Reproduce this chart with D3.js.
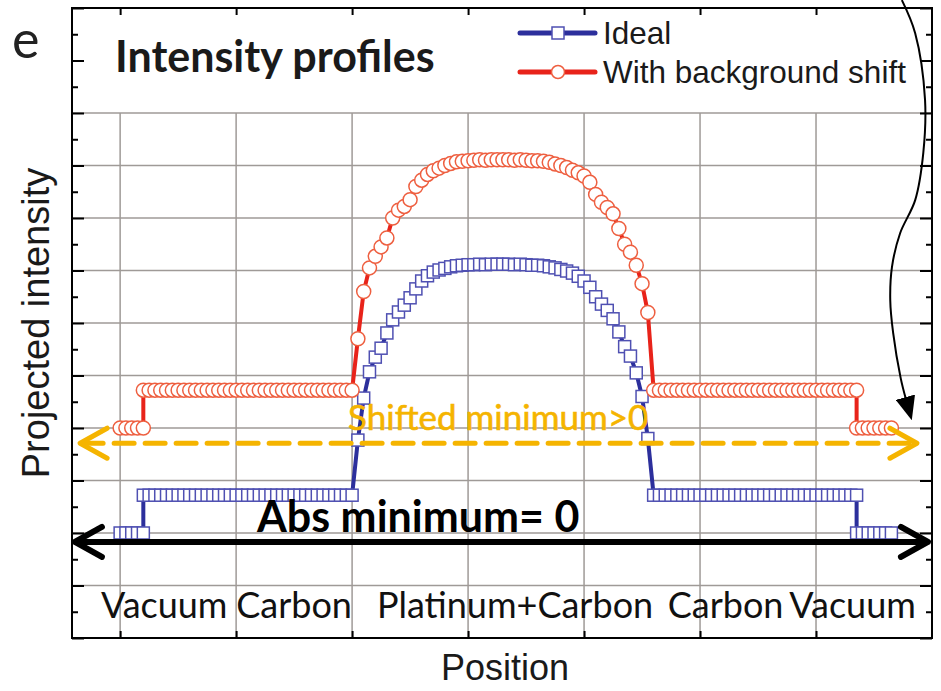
<!DOCTYPE html>
<html>
<head>
<meta charset="utf-8">
<script src="https://cdn.jsdelivr.net/npm/d3@7"></script>
<style>
  body { margin: 0; background: #fff; }
</style>
</head>
<body>
<div id="chart"></div>
<script>
// 1: DATA
const positions = [
  0, 1, 2, 3, 4,
  4, 5, 6, 7, 8, 9, 10, 11, 12, 13, 14, 15, 16, 17, 18, 19, 20, 21, 22, 23, 24, 25, 26, 27, 28, 29, 30, 31, 32, 33, 34, 35, 36, 37, 38, 39, 40,
  41, 42, 43, 44, 45, 46, 47, 48, 49, 50, 51, 52, 53, 54, 55, 56, 57, 58, 59, 60, 61, 62, 63, 64, 65,
  66,
  67, 68, 69, 70, 71, 72, 73, 74, 75, 76, 77, 78, 79, 80, 81, 82, 83, 84, 85, 86, 87, 88, 89, 90, 91,
  92, 93, 94, 95, 96, 97, 98, 99, 100, 101, 102, 103, 104, 105, 106, 107, 108, 109, 110, 111, 112, 113, 114, 115, 116, 117, 118, 119, 120, 121, 122, 123, 124, 125, 126, 127,
  127, 128, 129, 130, 131, 132, 133
];

const ideal = [
  2.00, 2.00, 2.00, 2.00, 2.00,
  2.72, 2.72, 2.72, 2.72, 2.72, 2.72, 2.72, 2.72, 2.72, 2.72, 2.72, 2.72, 2.72, 2.72, 2.72, 2.72, 2.72, 2.72, 2.72, 2.72, 2.72, 2.72, 2.72, 2.72, 2.72, 2.72, 2.72, 2.72, 2.72, 2.72, 2.72, 2.72, 2.72, 2.72, 2.72, 2.72, 2.72,
  3.77, 4.57, 5.07, 5.35, 5.52, 5.81, 6.06, 6.21, 6.34, 6.48, 6.65, 6.80, 6.90, 6.97, 7.01, 7.04, 7.07, 7.09, 7.10, 7.11, 7.11, 7.12, 7.11, 7.12, 7.12,
  7.12,
  7.12, 7.11, 7.12, 7.11, 7.10, 7.10, 7.09, 7.07, 7.05, 7.02, 6.99, 6.95, 6.89, 6.80, 6.68, 6.50, 6.36, 6.24, 6.08, 5.83, 5.55, 5.37, 5.05, 4.60, 3.80,
  2.72, 2.72, 2.72, 2.72, 2.72, 2.72, 2.72, 2.72, 2.72, 2.72, 2.72, 2.72, 2.72, 2.72, 2.72, 2.72, 2.72, 2.72, 2.72, 2.72, 2.72, 2.72, 2.72, 2.72, 2.72, 2.72, 2.72, 2.72, 2.72, 2.72, 2.72, 2.72, 2.72, 2.72, 2.72, 2.72,
  2.00, 2.00, 2.00, 2.00, 2.00, 2.00, 2.00
];

const shifted = [
  4.00, 4.00, 4.00, 4.00, 4.00,
  4.72, 4.72, 4.72, 4.72, 4.72, 4.72, 4.72, 4.72, 4.72, 4.72, 4.72, 4.72, 4.72, 4.72, 4.72, 4.72, 4.72, 4.72, 4.72, 4.72, 4.72, 4.72, 4.72, 4.72, 4.72, 4.72, 4.72, 4.72, 4.72, 4.72, 4.72, 4.72, 4.72, 4.72, 4.72, 4.72, 4.72,
  5.70, 6.60, 7.05, 7.27, 7.45, 7.62, 8.00, 8.15, 8.22, 8.35, 8.60, 8.72, 8.83, 8.90, 8.95, 9.00, 9.04, 9.07, 9.08, 9.09, 9.10, 9.11, 9.10, 9.11, 9.11,
  9.11,
  9.11, 9.10, 9.11, 9.10, 9.09, 9.09, 9.08, 9.06, 9.03, 9.00, 8.96, 8.91, 8.86, 8.80, 8.68, 8.45, 8.30, 8.20, 8.08, 7.80, 7.50, 7.35, 7.10, 6.75, 6.20,
  4.72, 4.72, 4.72, 4.72, 4.72, 4.72, 4.72, 4.72, 4.72, 4.72, 4.72, 4.72, 4.72, 4.72, 4.72, 4.72, 4.72, 4.72, 4.72, 4.72, 4.72, 4.72, 4.72, 4.72, 4.72, 4.72, 4.72, 4.72, 4.72, 4.72, 4.72, 4.72, 4.72, 4.72, 4.72, 4.72,
  4.00, 4.00, 4.00, 4.00, 4.00, 4.00, 4.00
];

const regionLabels = ["Vacuum", "Carbon", "Platinum+Carbon", "Carbon", "Vacuum"];
const regionCenters = [7.6, 30.0, 68.1, 104.4, 126.3];

const xGridValues = [0, 20, 40, 60, 80, 100, 120];
const yGridValues = [1, 2, 3, 4, 5, 6, 7, 8, 9, 10];
const yMajorTicks = [0, 1, 2, 3, 4, 5, 6, 7, 8, 9, 10, 11, 12];
const yMinorTicks = [0.5, 1.5, 2.5, 3.5, 4.5, 5.5, 6.5, 7.5, 8.5, 9.5, 10.5, 11.5];

const absMinLevel = 1.83;
const absMinSpan = [-7.8, 139.3];
const shiftedMinLevel = 3.71;
const shiftedMinSpan = [-6.9, 137.4];

// curved pointer arrow, top right (position, intensity)
const pointerPath = [
  [134.8, 12.15], [137.1, 11.52], [138.8, 10.25], [138.5, 9.24], [137.1, 8.34],
  [134.5, 7.71], [133.1, 7.07], [132.8, 6.44], [133.3, 5.81], [134.6, 4.95], [135.5, 4.55]
];

// 2: LAYOUT
const W = 941, H = 691;
const plot = { left: 72, right: 932, top: 8, bottom: 638 };

const svg = d3.select("#chart").append("svg")
  .attr("width", W)
  .attr("height", H)
  .style("font-family", "'Liberation Sans', Arial, sans-serif");

const x = d3.scaleLinear().domain([-8.3, 140]).range([plot.left, plot.right]);
const y = d3.scaleLinear().domain([0, 12]).range([plot.bottom, plot.top]);

const gridColor = "#9f9a97";

// GRID
svg.append("g").selectAll("line")
  .data(yGridValues)
  .join("line")
  .attr("x1", plot.left).attr("x2", plot.right)
  .attr("y1", d => y(d)).attr("y2", d => y(d))
  .attr("stroke", gridColor).attr("stroke-width", 1.5);

svg.append("g").selectAll("line")
  .data(xGridValues)
  .join("line")
  .attr("x1", d => x(d)).attr("x2", d => x(d))
  .attr("y1", y(0)).attr("y2", y(10))
  .attr("stroke", gridColor).attr("stroke-width", 1.5);

// TICKS (inward, no labels)
function tickAxis(axis, transform) {
  const g = svg.append("g").attr("transform", transform).call(axis);
  g.select(".domain").remove();
  g.selectAll("line").attr("stroke", "#000").attr("stroke-width", 2);
}
tickAxis(d3.axisLeft(y).tickValues(yMajorTicks).tickSize(-12).tickFormat(""), `translate(${plot.left},0)`);
tickAxis(d3.axisLeft(y).tickValues(yMinorTicks).tickSize(-6).tickFormat(""), `translate(${plot.left},0)`);
tickAxis(d3.axisRight(y).tickValues(yMajorTicks).tickSize(-12).tickFormat(""), `translate(${plot.right},0)`);
tickAxis(d3.axisRight(y).tickValues(yMinorTicks).tickSize(-6).tickFormat(""), `translate(${plot.right},0)`);
tickAxis(d3.axisTop(x).tickValues(xGridValues).tickSize(-7).tickFormat(""), `translate(0,${plot.top})`);
tickAxis(d3.axisBottom(x).tickValues(xGridValues).tickSize(-7).tickFormat(""), `translate(0,${plot.bottom})`);

// FRAME
svg.append("rect")
  .attr("x", plot.left).attr("y", plot.top)
  .attr("width", plot.right - plot.left).attr("height", plot.bottom - plot.top)
  .attr("fill", "none").attr("stroke", "#000").attr("stroke-width", 2);

// REGION LABELS
svg.append("g").selectAll("text")
  .data(regionLabels)
  .join("text")
  .attr("x", (d, i) => x(regionCenters[i]))
  .attr("y", 618)
  .attr("text-anchor", "middle")
  .attr("font-family", "Lato, sans-serif")
  .attr("font-size", 36)
  .attr("fill", "#111")
  .text(d => d);

// SERIES
const idealData = positions.map((p, i) => ({ x: p, y: ideal[i] }));
const shiftedData = positions.map((p, i) => ({ x: p, y: shifted[i] }));

const line = d3.line().x(d => x(d.x)).y(d => y(d.y));

const blueLine = "#2c2f9c", blueMark = "#4f50b2";
const redLine = "#e8231a", redMark = "#ee5f40";

svg.append("path")
  .datum(idealData)
  .attr("fill", "none")
  .attr("stroke", blueLine)
  .attr("stroke-width", 4)
  .attr("d", line);

svg.append("g").selectAll("rect")
  .data(idealData)
  .join("rect")
  .attr("x", d => x(d.x) - 6)
  .attr("y", d => y(d.y) - 6)
  .attr("width", 12).attr("height", 12)
  .attr("fill", "#fff")
  .attr("stroke", blueMark)
  .attr("stroke-width", 1.5);

svg.append("path")
  .datum(shiftedData)
  .attr("fill", "none")
  .attr("stroke", redLine)
  .attr("stroke-width", 4)
  .attr("d", line);

svg.append("g").selectAll("circle")
  .data(shiftedData)
  .join("circle")
  .attr("cx", d => x(d.x))
  .attr("cy", d => y(d.y))
  .attr("r", 7)
  .attr("fill", "#fff")
  .attr("stroke", redMark)
  .attr("stroke-width", 1.5);

// ANNOTATION ARROWS
function hArrow(level, span, color, width, dash) {
  const yy = y(level), x0 = x(span[0]), x1 = x(span[1]);
  const g = svg.append("g")
    .attr("stroke", color)
    .attr("stroke-width", width)
    .attr("fill", "none")
    .attr("stroke-linecap", "round")
    .attr("stroke-linejoin", "round");
  g.append("line")
    .attr("x1", x0 + 3).attr("x2", x1 - 3)
    .attr("y1", yy).attr("y2", yy)
    .attr("stroke-dasharray", dash);
  g.append("path").attr("d", `M${x0 + 27},${yy - 15} L${x0},${yy} L${x0 + 27},${yy + 15}`);
  g.append("path").attr("d", `M${x1 - 27},${yy - 15} L${x1},${yy} L${x1 - 27},${yy + 15}`);
}

const gold = "#f5b400";
hArrow(shiftedMinLevel, shiftedMinSpan, gold, 5, "20,11");
hArrow(absMinLevel, absMinSpan, "#000", 6, null);

svg.append("text")
  .attr("x", x(65.2))
  .attr("y", 430)
  .attr("text-anchor", "middle")
  .attr("font-family", "Lato, sans-serif")
  .attr("font-size", 35)
  .attr("fill", gold)
  .attr("stroke", gold)
  .attr("stroke-width", 0.6)
  .text("Shifted minimum>0");

svg.append("text")
  .attr("x", x(51.4))
  .attr("y", 532)
  .attr("text-anchor", "middle")
  .attr("font-family", "Lato, sans-serif")
  .attr("font-weight", "bold")
  .attr("font-size", 43)
  .attr("fill", "#000")
  .text("Abs minimum= 0");

// curved pointer
svg.append("defs").append("marker")
  .attr("id", "head")
  .attr("viewBox", "0 0 12 10")
  .attr("refX", 1).attr("refY", 5)
  .attr("markerWidth", 24).attr("markerHeight", 20)
  .attr("markerUnits", "userSpaceOnUse")
  .attr("orient", "auto")
  .append("path")
  .attr("d", "M0,0 L12,5 L0,10 Z")
  .attr("fill", "#000");

svg.append("path")
  .datum(pointerPath)
  .attr("fill", "none")
  .attr("stroke", "#000")
  .attr("stroke-width", 2)
  .attr("marker-end", "url(#head)")
  .attr("d", d3.line().x(d => x(d[0])).y(d => y(d[1])).curve(d3.curveCatmullRom));

// TITLE + PANEL LETTER
svg.append("text")
  .attr("x", 12).attr("y", 58)
  .attr("font-family", "Lato, sans-serif")
  .attr("font-size", 52)
  .attr("fill", "#222")
  .text("e");

svg.append("text")
  .attr("x", 115).attr("y", 72)
  .attr("font-family", "Lato, sans-serif")
  .attr("font-weight", "bold")
  .attr("font-size", 43)
  .attr("fill", "#1a1a1a")
  .text("Intensity profiles");

// LEGEND
const legendItems = [
  { label: "Ideal", line: blueLine, mark: blueMark, shape: "square" },
  { label: "With background shift", line: redLine, mark: redMark, shape: "circle" }
];
const legend = svg.append("g");
legendItems.forEach((item, i) => {
  const ly = 33 + i * 39;
  legend.append("line")
    .attr("x1", 520).attr("x2", 595)
    .attr("y1", ly).attr("y2", ly)
    .attr("stroke", item.line).attr("stroke-width", 5)
    .attr("stroke-linecap", "round");
  if (item.shape === "square") {
    legend.append("rect")
      .attr("x", 552).attr("y", ly - 6).attr("width", 12).attr("height", 12)
      .attr("fill", "#fff").attr("stroke", item.mark).attr("stroke-width", 1.5);
  } else {
    legend.append("circle")
      .attr("cx", 558).attr("cy", ly).attr("r", 6.5)
      .attr("fill", "#fff").attr("stroke", item.mark).attr("stroke-width", 1.5);
  }
  legend.append("text")
    .attr("x", 603).attr("y", ly + 11)
    .attr("font-size", 31.5)
    .attr("fill", "#1a1a1a")
    .text(item.label);
});

// AXIS TITLES
svg.append("text")
  .attr("x", 505).attr("y", 680)
  .attr("text-anchor", "middle")
  .attr("font-size", 36)
  .attr("fill", "#1a1a1a")
  .text("Position");

svg.append("text")
  .attr("transform", "rotate(-90)")
  .attr("x", -323).attr("y", 49)
  .attr("text-anchor", "middle")
  .attr("font-size", 38)
  .attr("fill", "#1a1a1a")
  .text("Projected intensity");
</script>
</body>
</html>
